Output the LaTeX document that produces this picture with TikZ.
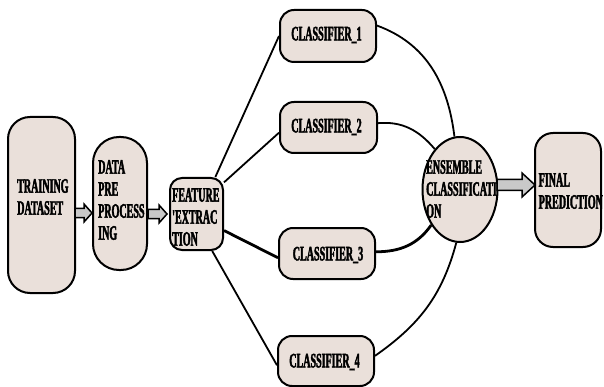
\documentclass[tikz,border=0pt]{standalone}
\usepackage{fontspec}
\newfontfamily\lbl{Liberation Serif}[FakeStretch=0.49,FakeBold=2]
\usetikzlibrary{shapes.geometric}
\definecolor{boxfill}{HTML}{EAE0DA}
\definecolor{arrfill}{HTML}{C9C9C9}
\begin{document}
\begin{tikzpicture}[x=1pt,y=-1pt,
  box/.style={draw=black, line width=2pt, fill=boxfill, inner sep=0pt},
  txt/.style={font=\lbl\bfseries\fontsize{20.5}{22}\selectfont, align=left, inner sep=0pt, anchor=west},
  ctxt/.style={font=\lbl\bfseries\fontsize{20.5}{22}\selectfont, inner sep=0pt},
  link/.style={draw=black, line width=1.8pt},
  thicklink/.style={draw=black, line width=2.8pt},
  blk/.style={draw=black, line width=1.5pt, fill=arrfill, line join=miter}
]
\useasboundingbox[fill=white] (0,0) rectangle (604,387);
% shapes
\node[box, rounded corners=22pt, minimum width=67pt, minimum height=176pt] (td) at (41.5,205) {};
\node[box, rounded corners=26pt, minimum width=54pt, minimum height=133pt] (dp) at (120,203.5) {};
\node[box, rounded corners=12pt, minimum width=53pt, minimum height=72pt] (fe) at (196.5,214) {};
\node[box, rounded corners=14pt, minimum width=96pt, minimum height=52pt] (c1) at (328,36) {};
\node[box, rounded corners=14pt, minimum width=97pt, minimum height=51pt] (c2) at (328.5,127.5) {};
\node[box, rounded corners=14pt, minimum width=96pt, minimum height=51pt] (c3) at (327,253.5) {};
\node[box, rounded corners=14pt, minimum width=96pt, minimum height=50pt] (c4) at (326,361) {};
\node[box, ellipse, minimum width=75pt, minimum height=105pt] (ens) at (460,189.5) {};
\node[box, rounded corners=18pt, minimum width=66pt, minimum height=114pt] (fp) at (568,190) {};
% texts
\node[txt] (tdt) at (17,197) {TRAINING\\DATASET};
\node[txt] (dpt) at (98,200) {DATA\\PRE\\PROCESS\\ING};
\node[txt] (fet) at (172,217) {FEATURE\\'EXTRAC\\TION};
\node[ctxt] (c1t) at (326.5,35) {CLASSIFIER\_1};
\node[ctxt] (c2t) at (326.5,127) {CLASSIFIER\_2};
\node[ctxt] (c3t) at (328,255) {CLASSIFIER\_3};
\node[ctxt] (c4t) at (324.5,362) {CLASSIFIER\_4};
\node[txt] (enst) at (426,189) {ENSEMBLE\\CLASSIFICATI\\ON};
\node[txt] (fpt) at (538.5,191) {FINAL\\PREDICTION};
% block arrows
\draw[blk] (75,208.5) -- (84,208.5) -- (84,204) -- (92,213) -- (84,222) -- (84,217.5) -- (75,217.5) -- cycle;
\draw[blk] (148,209.5) -- (159,209.5) -- (159,205) -- (167,214) -- (159,223) -- (159,218.5) -- (148,218.5) -- cycle;
\draw[blk] (497,179.5) -- (522,179.5) -- (522,173) -- (535,185) -- (522,197) -- (522,190.5) -- (497,190.5) -- cycle;
% connectors
\draw[link] (fe.63) -- (c1.west);
\draw[link] (fe.49) -- (c2.186);
\draw[thicklink] (fe.-31) -- (c3.185);
\draw[link] (fe.-67) -- (c4.185);
\draw[link] (c1.12) to[out=-20, in=97] (ens.96);
\draw[link] (c2.5) to[out=5, in=130] (ens.122);
\draw[thicklink] (c3.2) to[out=0, in=-125] (ens.231);
\draw[link] (c4.6) to[out=35, in=-105] (ens.266);
\end{tikzpicture}
\end{document}
